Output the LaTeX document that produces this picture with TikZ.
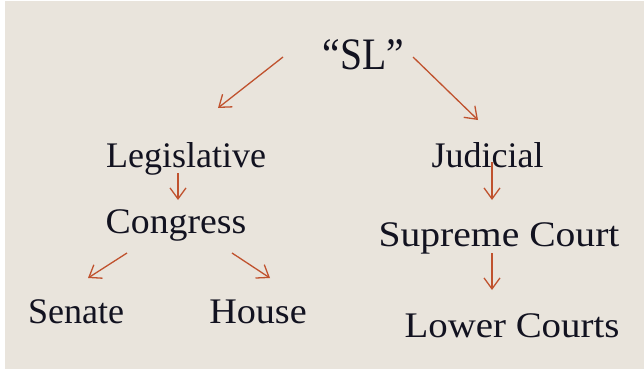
\documentclass[tikz,border=0pt]{standalone}
\usepackage{fontspec}
\setmainfont{Liberation Serif}
\usetikzlibrary{arrows.meta}
\definecolor{paper}{RGB}{233,228,220}
\definecolor{ink}{RGB}{18,18,32}
\definecolor{rust}{RGB}{192,82,46}
\newcommand{\wide}[2]{\scalebox{#1}[1]{#2}}
\begin{document}
\begin{tikzpicture}[x=1pt,y=-1pt,
  label/.style={anchor=base,inner sep=0pt,text=ink,font=\fontsize{36}{40}\selectfont},
  title/.style={anchor=base,inner sep=0pt,text=ink,font=\fontsize{45}{50}\selectfont},
  arr/.style={draw=rust,line width=1.3pt,-{Straight Barb[length=11pt,width=16pt,line width=1.3pt]}}]
  % page and paper
  \fill[white] (0,0) rectangle (644,369);
  \fill[paper] (5,1) rectangle (644,369);
  \useasboundingbox (0,0) rectangle (644,369);
  % labels
  \node[title] (sl) at (363.5,70) {\wide{0.88}{“SL”}};
  \node[label] (leg) at (186,167) {Legislative};
  \node[label] (con) at (176,233) {\wide{1.05}{Congress}};
  \node[label] (sen) at (76,323) {Senate};
  \node[label] (hou) at (258,323) {\wide{1.06}{House}};
  \node[label] (jud) at (487.5,167) {Judicial};
  \node[label] (sup) at (499,246) {\wide{1.1}{Supreme Court}};
  \node[label] (low) at (512,337) {\wide{1.08}{Lower Courts}};
  % arrow ends
  \coordinate (slL) at (283,57);   \coordinate (legT) at (218,108);
  \coordinate (slR) at (413,57);   \coordinate (judT) at (478,120);
  \coordinate (legB) at (178,173); \coordinate (conT) at (178,200);
  \coordinate (conL) at (127,253); \coordinate (senT) at (88,278);
  \coordinate (conR) at (232,253); \coordinate (houT) at (270,278);
  \coordinate (judB) at (492,162); \coordinate (supT) at (492,200);
  \coordinate (supB) at (492,253); \coordinate (lowT) at (492,290);
  % arrows
  \draw[arr] (slL) -- (legT);
  \draw[arr] (slR) -- (judT);
  \draw[arr] (legB) -- (conT);
  \draw[arr] (conL) -- (senT);
  \draw[arr] (conR) -- (houT);
  \draw[arr] (judB) -- (supT);
  \draw[arr] (supB) -- (lowT);
\end{tikzpicture}
\end{document}
